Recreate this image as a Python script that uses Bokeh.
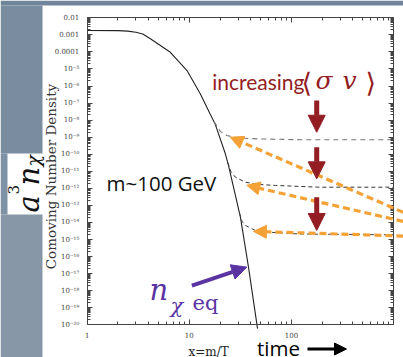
from bokeh.plotting import figure
from bokeh.models import (Range1d, LogAxis, FixedTicker, Label, BoxAnnotation,
                          Arrow, NormalHead, ColumnDataSource, CustomJSTickFormatter)
from bokeh.embed import file_html
from bokeh.resources import INLINE
import math

W, H = 403, 357

# ---------------- data ----------------
eq_x = [1, 2.0, 2.5, 3.0, 3.5, 4.16, 6.52, 9.5, 12.8, 16.0, 17.9, 22.5, 24.2, 31.7, 38.0, 45.9, 46.6]
eq_y = [1.8e-3, 1.78e-3, 1.66e-3, 1.41e-3, 1.12e-3, 5.9e-4, 9.5e-5, 8.1e-6, 3.5e-7, 2.3e-8, 6.0e-9,
        1.1e-10, 2.2e-11, 2.0e-14, 2.4e-17, 1.1e-20, 6e-21]

fo1_x = [17.5, 20.1, 23.4, 29.3, 49.4, 121.6, 1000]
fo1_y = [8.1e-9, 2.2e-9, 1.26e-9, 8.9e-10, 7.9e-10, 7.1e-10, 7.1e-10]
fo2_x = [23.8, 25.5, 28.2, 35.3, 47.6, 70, 190, 1000]
fo2_y = [3.2e-11, 1.0e-11, 4.6e-12, 2.3e-12, 1.7e-12, 1.48e-12, 1.17e-12, 1.17e-12]
fo3_x = [31.0, 33.0, 35.3, 44.3, 59.3, 121.6, 1000]
fo3_y = [3.6e-14, 1.1e-14, 6.8e-15, 3.4e-15, 2.7e-15, 2.1e-15, 1.9e-15]

orange_tip_x = [25.2, 36.6, 42.5]
orange_tip_y = [1.0e-9, 1.5e-12, 3.0e-15]
orange_tail_x = [1250, 1250, 1250]
orange_tail_y = [3.9e-14, 1.15e-14, 1.6e-15]

red_x = [177, 177, 177]
red_y_start = [1.41e-7, 2.6e-10, 3.0e-13]
red_y_end = [1.95e-9, 3.6e-12, 3.4e-15]

eq_arrow_x = [10.6, 36.6]
eq_arrow_y = [2.0e-18, 2.4e-17]

x_ticks = [1, 10, 100]
x_tick_labels = ["1", "10", "100"]
y_tick_exponents = list(range(-2, -21, -1))
y_tick_labels = ["0.01", "0.001", "0.0001", "10⁻⁵", "10⁻⁶", "10⁻⁷", "10⁻⁸", "10⁻⁹",
                 "10⁻¹⁰", "10⁻¹¹", "10⁻¹²", "10⁻¹³", "10⁻¹⁴", "10⁻¹⁵", "10⁻¹⁶",
                 "10⁻¹⁷", "10⁻¹⁸", "10⁻¹⁹", "10⁻²⁰"]

# ---------------- colours ----------------
ORANGE = "#f4a236"
RED = "#931d22"
PURPLE = "#5b34a3"
AXC = "#444444"

y_ticks = [float(f"1e{e}") for e in y_tick_exponents]
y_minor = [float(f"{m}e{e}") for e in range(-20, -2) for m in range(2, 10)]
x_minor = [m * d for d in (1, 10, 100) for m in range(2, 10)]

# plotting box geometry (pixels) -> ranges extended to the whole canvas
BOX_L, BOX_R, BOX_T, BOX_B = 86.7, 393.0, 17.3, 324.3
XLO, XHI, YLO, YHI = 1.0, 1000.0, 1e-20, 1e-2
dx = (BOX_R - BOX_L) / (math.log10(XHI) - math.log10(XLO))
dy = (BOX_B - BOX_T) / (math.log10(YHI) - math.log10(YLO))
x_start = 10 ** (math.log10(XLO) - BOX_L / dx)
x_end = 10 ** (math.log10(XHI) + (W - BOX_R) / dx)
y_end = 10 ** (math.log10(YHI) + BOX_T / dy)
y_start = 10 ** (math.log10(YLO) - (H - BOX_B) / dy)

p = figure(width=W, height=H, x_axis_type="log", y_axis_type="log",
           x_range=Range1d(x_start, x_end), y_range=Range1d(y_start, y_end),
           output_backend="svg", toolbar_location=None,
           min_border=0, min_border_left=0, min_border_right=0,
           min_border_top=0, min_border_bottom=0)
p.xgrid.visible = False
p.ygrid.visible = False
p.background_fill_color = "white"
p.border_fill_color = "white"
p.outline_line_color = None

LOOKUP = """
let best = 0, bd = 1e99;
for (let i = 0; i < tv.length; i++) {
  const d = Math.abs(Math.log10(tv[i]) - Math.log10(tick));
  if (d < bd) { bd = d; best = i; }
}
return bd < 1e-6 ? labs[best] : "";
"""


def style_axis(ax, ticks, minor, loc, bounds, labels=None):
    ax.ticker = FixedTicker(ticks=ticks, minor_ticks=minor)
    ax.fixed_location = loc
    ax.bounds = bounds
    ax.axis_line_color = AXC
    ax.major_tick_line_color = AXC
    ax.minor_tick_line_color = AXC
    ax.major_tick_in = 5
    ax.major_tick_out = 0
    ax.minor_tick_in = 3
    ax.minor_tick_out = 0
    ax.major_label_text_font = "DejaVu Serif"
    ax.major_label_text_color = AXC
    ax.major_label_text_font_size = "7px"
    if labels is not None:
        ax.formatter = CustomJSTickFormatter(args=dict(tv=ticks, labs=labels), code=LOOKUP)
    else:
        ax.formatter = CustomJSTickFormatter(code="return '';")
        ax.major_label_standoff = 0


style_axis(p.xaxis[0], x_ticks, x_minor, YLO, (XLO, XHI), x_tick_labels)
style_axis(p.yaxis[0], y_ticks, y_minor, XLO, (YLO, YHI), y_tick_labels)
p.xaxis.major_label_standoff = 7
p.yaxis.major_label_standoff = 8

top_ax = LogAxis()
style_axis(top_ax, x_ticks, x_minor, YHI, (XLO, XHI))
p.add_layout(top_ax, "above")
right_ax = LogAxis()
style_axis(right_ax, y_ticks, y_minor, XHI, (YLO, YHI))
p.add_layout(right_ax, "right")


# ---------------- slide background (canvas pixels) ----------------
def cbox(l, r, t, b, color):
    p.add_layout(BoxAnnotation(left=l, right=r, top=t, bottom=b,
                               left_units="canvas", right_units="canvas",
                               top_units="canvas", bottom_units="canvas",
                               fill_color=color, fill_alpha=1.0, line_color=None,
                               level="underlay"))


cbox(0, W, 0, 5, "#71859a")
cbox(0, 42, 5, 153, "#7a8da0")
cbox(0, 7, 153, 214, "#7f91a4")
cbox(0, 42, 214, H, "#8797a8")


def clabel(x, y, text, size, color, font, style="normal", angle=0.0, align="left"):
    p.add_layout(Label(x=x, y=y, x_units="canvas", y_units="canvas", text=text,
                       text_font_size=f"{size}px", text_color=color, text_font=font,
                       text_font_style=style, angle=angle, text_align=align,
                       text_baseline="alphabetic"))


# ---------------- curves ----------------
p.line(eq_x, eq_y, line_color="#222222", line_width=1.1)
p.line(fo1_x, fo1_y, line_color="#777777", line_width=1.1, line_dash="5 4")
p.line(fo2_x, fo2_y, line_color="#333333", line_width=1.0, line_dash="4 3")
p.line(fo3_x, fo3_y, line_color="#444444", line_width=1.0, line_dash="4 3")

osrc = ColumnDataSource(dict(x0=orange_tail_x, y0=orange_tail_y, x1=orange_tip_x, y1=orange_tip_y))
p.add_layout(Arrow(x_start="x0", y_start="y0", x_end="x1", y_end="y1", source=osrc,
                   line_color=ORANGE, line_width=3.2, line_dash="7 4",
                   end=NormalHead(size=13, fill_color=ORANGE, line_color=ORANGE)))

rsrc = ColumnDataSource(dict(x0=red_x, y0=red_y_start, x1=red_x, y1=red_y_end))
p.add_layout(Arrow(x_start="x0", y_start="y0", x_end="x1", y_end="y1", source=rsrc,
                   line_color=RED, line_width=5,
                   end=NormalHead(size=17, fill_color=RED, line_color=RED)))

p.add_layout(Arrow(x_start=eq_arrow_x[0], y_start=eq_arrow_y[0],
                   x_end=eq_arrow_x[1], y_end=eq_arrow_y[1],
                   line_color=PURPLE, line_width=4,
                   end=NormalHead(size=15, fill_color=PURPLE, line_color=PURPLE)))

# ---------------- texts ----------------
ROT = math.pi / 2
clabel(50, 176, "Comoving Number Density", 13.5, "#333333", "DejaVu Serif", "normal", ROT, "center")

clabel(211.7, 80.5, "increasing", 21, RED, "Lato")
clabel(301, 82, "⟨", 27, RED, "DejaVu Serif")
clabel(315, 80, "σ", 25, RED, "DejaVu Serif", "italic")
clabel(342, 80, "v", 25, RED, "DejaVu Serif", "italic")
clabel(365, 82, "⟩", 27, RED, "DejaVu Serif")

clabel(106, 182.5, "m~100 GeV", 20.5, "#111111", "Open Sans")

clabel(149, 289.5, "n", 29, PURPLE, "DejaVu Serif", "italic")
clabel(170, 305.5, "χ", 21, PURPLE, "DejaVu Serif", "italic")
clabel(192, 302, "eq", 21, PURPLE, "DejaVu Serif")

clabel(188, 351, "x=m/T", 12, "#222222", "DejaVu Serif")
clabel(256.5, 347, "time", 20.5, "#000000", "Open Sans")
p.add_layout(Arrow(x_start=307, y_start=348.5, x_end=346, y_end=348.5,
                   start_units="canvas", end_units="canvas",
                   line_color="#000000", line_width=3,
                   end=NormalHead(size=12, fill_color="#000000", line_color="#000000")))

# rotated a^3 n_chi in the left white box
clabel(28, 212, "a", 29, "#111111", "DejaVu Serif", "italic", ROT)
clabel(13, 194, "3", 15, "#111111", "DejaVu Serif", "normal", ROT)
clabel(28, 185, "n", 29, "#111111", "DejaVu Serif", "italic", ROT)
clabel(32, 166, "χ", 19, "#111111", "DejaVu Serif", "italic", ROT)

open("out.html", "w").write(file_html(p, INLINE))
